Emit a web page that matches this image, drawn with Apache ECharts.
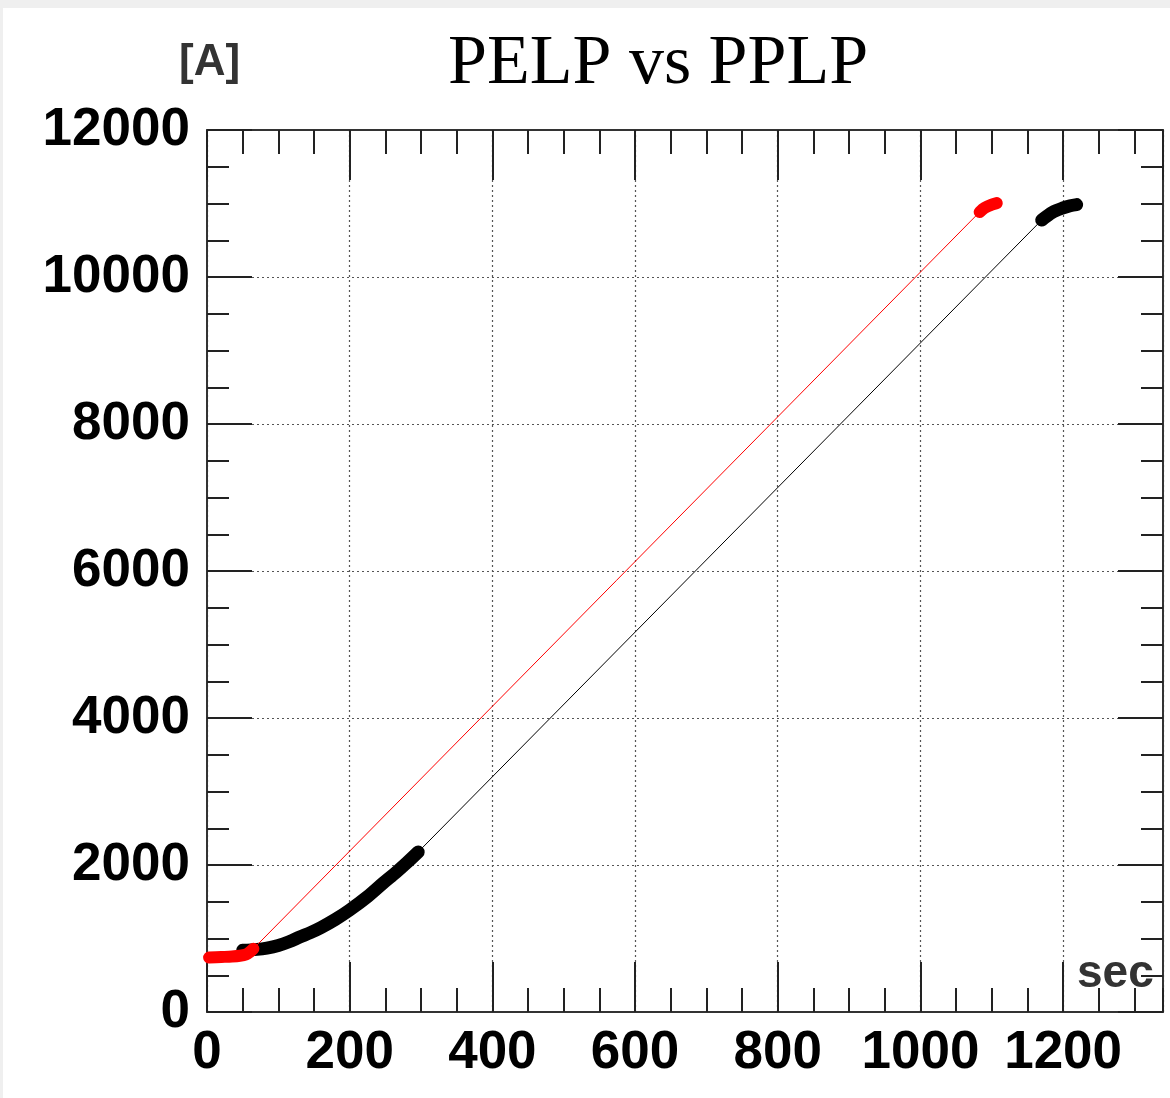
<!DOCTYPE html>
<html><head><meta charset="utf-8">
<script src="https://cdn.jsdelivr.net/npm/echarts@6/dist/echarts.min.js"></script>
<style>
html,body{margin:0;padding:0;background:#efefef;width:1170px;height:1098px;overflow:hidden}
#c{position:absolute;left:3px;top:8px;width:1167px;height:1090px;background:#fff}
</style></head><body><div id="c"></div>
<script>
// PELP (red) and PPLP (black): time [sec] vs current [A]
const redTime    = [3, 20, 35, 46, 55, 60, 65, 1083, 1090, 1100, 1107];
const redCurrent = [740, 748, 755, 765, 785, 815, 860, 10884, 10940, 10985, 11005];
const blackTime    = [50, 70, 84, 100, 115, 130, 145, 160, 180, 200, 225, 247, 265, 280, 296, 1170, 1185, 1200, 1210, 1219];
const blackCurrent = [840, 852, 870, 905, 955, 1020, 1080, 1150, 1260, 1388, 1570, 1755, 1900, 2030, 2177, 10775, 10880, 10940, 10970, 10985];
const xRange = [0, 1340];
const yRange = [0, 12000];
const xMajor = 200, xMinor = 50, yMajor = 2000, yMinor = 500;

function pairs(t, v) { return t.map((x, i) => [x, v[i]]); }
// thick (dense-measurement) segments break across the big sampling gap
function thick(t, v) {
  const out = [];
  for (let i = 0; i < t.length; i++) {
    if (i > 0 && t[i] - t[i - 1] > 300) out.push([ (t[i] + t[i-1]) / 2, null ]);
    out.push([t[i], v[i]]);
  }
  return out;
}

const chart = echarts.init(document.getElementById('c'), null, {renderer: 'canvas'});
const frame = {show: true, onZero: false, lineStyle: {color: '#333', width: 2}};
const plain = v => String(v);
const lblX = {fontSize: 53, fontWeight: 'bold', color: '#000', fontFamily: 'Liberation Sans, Arial, sans-serif', margin: 15, showMaxLabel: false, formatter: plain};
const lblY = {fontSize: 53, fontWeight: 'bold', color: '#000', fontFamily: 'Liberation Sans, Arial, sans-serif', margin: 17, formatter: plain};
const dotted = {show: true, lineStyle: {type: [2, 3], color: '#555', width: 1.2}};
const tickStyle = {color: '#222', width: 2};

function xAx(grid, pos, interval, len, labels, split, line) {
  return {type: 'value', gridIndex: grid, position: pos, min: xRange[0], max: xRange[1], interval: interval,
    axisLine: line ? frame : {show: false, onZero: false},
    axisTick: {show: true, inside: true, length: len, lineStyle: tickStyle},
    axisLabel: labels ? lblX : {show: false},
    splitLine: split ? dotted : {show: false}};
}
function yAx(grid, pos, interval, len, labels, split, line) {
  return {type: 'value', gridIndex: grid, position: pos, min: yRange[0], max: yRange[1], interval: interval,
    axisLine: line ? frame : {show: false, onZero: false},
    axisTick: {show: true, inside: true, length: len, lineStyle: tickStyle},
    axisLabel: labels ? lblY : {show: false},
    splitLine: split ? dotted : {show: false}};
}
const g = {left: 204, top: 122, width: 956, height: 882};

chart.setOption({
  animation: false,
  backgroundColor: '#fff',
  grid: [Object.assign({}, g), Object.assign({}, g)],
  xAxis: [
    xAx(0, 'bottom', xMajor, 50, true, true, true),
    xAx(0, 'top', xMajor, 50, false, false, true),
    xAx(1, 'bottom', xMinor, 24, false, false, false),
    xAx(1, 'top', xMinor, 24, false, false, false)
  ],
  yAxis: [
    yAx(0, 'left', yMajor, 45, true, true, true),
    yAx(0, 'right', yMajor, 45, false, false, true),
    yAx(1, 'left', yMinor, 22, false, false, false),
    yAx(1, 'right', yMinor, 22, false, false, false)
  ],
  graphic: [
    {type: 'text', left: 445, top: 22, style: {text: 'PELP vs PPLP', font: '70px "Liberation Serif", "Times New Roman", serif', fill: '#000'}},
    {type: 'text', left: 176, top: 33, style: {text: '[A]', font: 'bold 44px "Liberation Sans", Arial, sans-serif', fill: '#333'}},
    {type: 'text', left: 1074, top: 943, z: 1, style: {text: 'sec', font: 'bold 46px "Liberation Sans", Arial, sans-serif', fill: '#333'}}
  ],
  series: [
    {type: 'line', xAxisIndex: 0, yAxisIndex: 0, data: pairs(blackTime, blackCurrent), showSymbol: false,
      lineStyle: {color: '#000', width: 1}, z: 3},
    {type: 'line', xAxisIndex: 0, yAxisIndex: 0, data: thick(blackTime, blackCurrent), showSymbol: false, connectNulls: false, smooth: 0.3,
      lineStyle: {color: '#000', width: 13, cap: 'round', join: 'round'}, z: 3},
    {type: 'line', xAxisIndex: 0, yAxisIndex: 0, data: pairs(redTime, redCurrent), showSymbol: false,
      lineStyle: {color: '#ff0000', width: 1}, z: 4},
    {type: 'line', xAxisIndex: 0, yAxisIndex: 0, data: thick(redTime, redCurrent), showSymbol: false, connectNulls: false, smooth: 0.3,
      lineStyle: {color: '#ff0000', width: 12, cap: 'round', join: 'round'}, z: 4}
  ]
});
</script></body></html>
